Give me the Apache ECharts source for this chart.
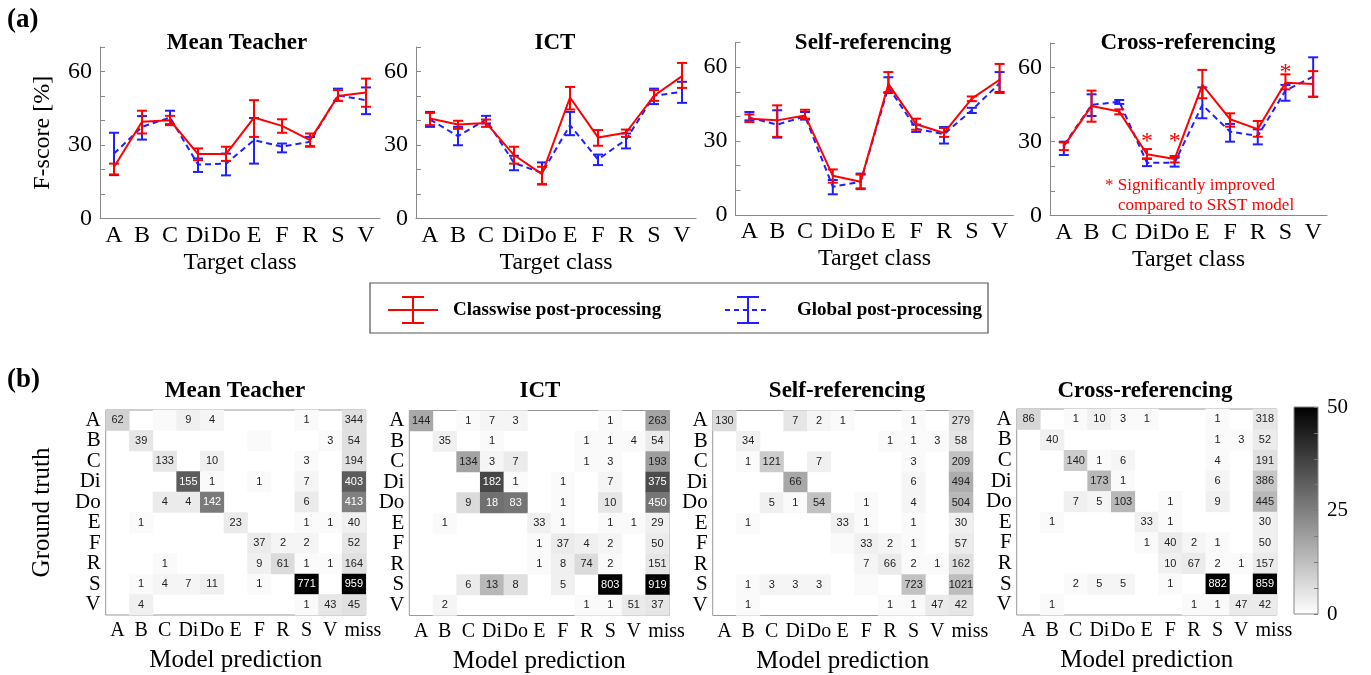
<!DOCTYPE html>
<html><head><meta charset="utf-8">
<script src="https://cdn.jsdelivr.net/npm/echarts@6/dist/echarts.min.js"></script>
<style>html,body{margin:0;padding:0;background:#fff}#c{width:1371px;height:675px}</style>
</head><body><div id="c"></div>
<script>
const _ = null;
const classes = ['A','B','C','Di','Do','E','F','R','S','V'];
const predCols = ['A','B','C','Di','Do','E','F','R','S','V','miss'];
const yTickLabels = [0,30,60];
const cbTickLabels = [0,25,50];
const lineTitles = ['Mean Teacher','ICT','Self-referencing','Cross-referencing'];

// (a) F-score: mean, lower and upper error limits
const mtClsMean = [21,39.5,40.1,26.3,26.3,41.2,37.8,32,50,51.4];
const mtClsLo   = [18,34.7,38.1,23.8,23.5,33.3,35,29.3,48,45.6];
const mtClsHi   = [22.4,44,41.9,28.6,29.3,48.3,40.5,34.7,52.4,57.1];
const mtGlbMean = [26.5,37.4,41.2,22,22.4,32,29.3,31.3,50.3,48.3];
const mtGlbLo   = [17.7,32.2,38.5,19,17.6,22.4,27,29.5,48,42.6];
const mtGlbHi   = [35,41.8,44,24.5,26.5,41,30.6,33.3,53,53.5];

const ictClsMean = [40.8,38.4,39,25.9,18.1,49.4,33.1,35,50.1,58.1];
const ictClsLo   = [38.1,36.6,37.4,22.4,13.9,44.5,29.7,33.3,48,53.3];
const ictClsHi   = [43.1,39.9,40.4,29.3,21.1,53.7,36.1,36.3,52.4,63.5];
const ictGlbMean = [40.4,33.6,40.4,22.7,18.6,38.1,24.1,32.2,50.1,51.7];
const ictGlbLo   = [37.4,29.9,38.8,19.7,14,34,21.8,28.6,46.7,47.2];
const ictGlbHi   = [43.5,37.4,41.9,25.6,22.9,43.5,26.1,34.7,53,55.8];

const srClsMean = [39.1,38.4,40.4,15.9,13.5,53.2,36.8,33.3,47.2,54.9];
const srClsLo   = [37.7,31.7,39.1,13.1,10.5,49.9,34.6,31.7,46.2,49.5];
const srClsHi   = [40.8,44.5,42.7,18.5,16.4,58,39.1,35.3,48.1,61.3];
const srGlbMean = [39.5,36.7,40,11.5,13.5,51.9,35,32.8,42.5,53.5];
const srGlbLo   = [38.4,31.4,38.7,8.4,10.8,49.5,33.7,29,41.4,49.9];
const srGlbHi   = [41.8,42.5,41.8,14.2,16.8,55.9,36.7,35.7,43.5,58];

const crClsMean = [28.2,44.5,42.2,24.9,23,53,39.1,35.1,53.9,53.4];
const crClsLo   = [26.6,38.1,41.1,23,21.6,47.6,36.1,32,51.2,48.2];
const crClsHi   = [29.7,50.7,43.1,27,24.2,59.1,41.5,38.4,57.3,58.6];
const crGlbMean = [28.6,44.9,46.2,21.5,21.5,44.9,34.1,32.3,50.7,56.4];
const crGlbLo   = [24.6,40.4,45.3,20.1,19.9,39.5,30,28.9,46.6,48.2];
const crGlbHi   = [30,49.2,46.9,23.2,23.5,52,37.2,35,53,64.2];
const crStarY   = [_,_,_,32.7,32.7,_,_,_,61,_];

// (b) confusion matrices: counts (rows = ground truth, cols = prediction) and shade level (0-50)
const mtCounts = [
 [62,_,_,9,4,_,_,_,1,_,344],
 [_,39,_,_,_,_,_,_,_,3,54],
 [_,_,133,_,10,_,_,_,3,_,194],
 [_,_,_,155,1,_,1,_,7,_,403],
 [_,_,4,4,142,_,_,_,6,_,413],
 [_,1,_,_,_,23,_,_,1,1,40],
 [_,_,_,_,_,_,37,2,2,_,52],
 [_,_,1,_,_,_,9,61,1,1,164],
 [_,1,4,7,11,_,1,_,771,_,959],
 [_,4,_,_,_,_,_,_,1,43,45]
];
const mtShade = [
 [9,0,1,3,2,0,0,0,1,0,6],
 [0,5,0,0,0,0,1,0,0,1,6],
 [0,0,5,0,3,0,0,0,1,0,6],
 [0,0,0,32,1,0,1,0,2,0,32],
 [0,0,4,4,26,0,0,0,4,0,25],
 [0,1,0,0,0,4,0,0,1,1,3],
 [0,0,0,0,0,0,4,2,2,0,5],
 [0,0,1,0,0,0,3,7,1,1,6],
 [0,1,2,2,3,0,1,0,50,0,50],
 [0,3,0,0,0,0,0,0,1,5,6]
];
const ictCounts = [
 [144,_,1,7,3,_,_,_,1,_,263],
 [_,35,_,1,_,_,_,1,1,4,54],
 [_,_,134,3,7,_,_,1,3,_,193],
 [_,_,_,182,1,_,1,_,7,_,375],
 [_,_,9,18,83,_,1,_,10,_,450],
 [_,1,_,_,_,33,1,_,1,1,29],
 [_,_,_,_,_,1,37,4,2,_,50],
 [_,_,_,_,_,1,8,74,2,_,151],
 [_,_,6,13,8,_,5,_,803,_,919],
 [_,2,_,_,_,_,_,1,1,51,37]
];
const ictShade = [
 [17,0,1,2,2,0,0,0,1,0,18],
 [0,3,0,1,0,0,0,1,1,1,4],
 [0,0,18,2,4,0,0,1,1,0,19],
 [0,0,0,36,1,0,1,0,2,0,35],
 [0,0,7,28,27,0,1,0,5,0,27],
 [0,1,0,0,0,3,1,0,1,1,3],
 [0,0,0,0,0,1,4,3,2,0,4],
 [0,0,0,0,0,1,3,7,1,0,5],
 [0,0,4,14,6,0,3,0,50,0,50],
 [0,2,0,0,0,0,0,1,1,4,5]
];
const srCounts = [
 [130,_,_,7,2,1,_,_,1,_,279],
 [_,34,_,_,_,_,_,1,1,3,58],
 [_,1,121,_,7,_,_,_,3,_,209],
 [_,_,_,66,_,_,_,_,6,_,494],
 [_,_,5,1,54,_,1,_,4,_,504],
 [_,1,_,_,_,33,1,_,1,_,30],
 [_,_,_,_,_,_,33,2,1,_,57],
 [_,_,_,_,_,_,7,66,2,1,162],
 [_,1,3,3,3,_,_,_,723,_,1021],
 [_,1,_,_,_,_,_,1,1,47,42]
];
const srShade = [
 [7,0,0,5,2,1,0,0,1,0,6],
 [0,3,0,0,0,0,0,1,1,1,5],
 [0,1,10,0,3,0,0,0,1,0,12],
 [0,0,0,17,0,0,0,0,2,0,16],
 [0,0,3,1,12,0,1,0,2,0,14],
 [0,1,0,0,0,3,1,0,1,0,3],
 [0,0,0,0,0,1,3,2,1,0,4],
 [0,0,0,0,0,0,2,4,1,1,6],
 [0,1,2,2,2,0,1,0,12,0,13],
 [0,1,0,0,0,0,0,1,1,4,5]
];
const crCounts = [
 [86,_,1,10,3,1,_,_,1,_,318],
 [_,40,_,_,_,_,_,_,1,3,52],
 [_,_,140,1,6,_,_,_,4,_,191],
 [_,_,_,173,1,_,_,_,6,_,386],
 [_,_,7,5,103,_,1,_,9,_,445],
 [_,1,_,_,_,33,1,_,_,_,30],
 [_,_,_,_,_,1,40,2,1,_,50],
 [_,_,_,_,_,_,10,67,2,1,157],
 [_,_,2,5,5,_,1,_,882,_,859],
 [_,1,_,_,_,_,_,1,1,47,42]
];
const crShade = [
 [8,0,1,3,1,1,0,0,1,0,5],
 [0,3,0,0,0,0,0,0,1,1,4],
 [0,0,10,1,2,0,0,0,1,0,6],
 [0,0,0,14,1,0,0,0,2,0,11],
 [0,0,3,2,14,0,1,0,3,0,14],
 [0,1,0,0,0,3,1,0,0,0,3],
 [0,0,0,0,0,1,4,2,1,0,3],
 [0,0,0,0,0,0,3,4,1,1,4],
 [0,0,1,2,2,0,1,0,50,0,50],
 [0,1,0,0,0,0,0,1,1,4,4]
];

const SERIF = '"Liberation Serif","Times New Roman",serif';
const SANS = '"Liberation Sans",Arial,sans-serif';
const RED = '#ff0000', BLUE = '#1f1fff', AXC = '#888';

const panels = [
 {cls:[mtClsMean,mtClsLo,mtClsHi], glb:[mtGlbMean,mtGlbLo,mtGlbHi]},
 {cls:[ictClsMean,ictClsLo,ictClsHi], glb:[ictGlbMean,ictGlbLo,ictGlbHi]},
 {cls:[srClsMean,srClsLo,srClsHi], glb:[srGlbMean,srGlbLo,srGlbHi]},
 {cls:[crClsMean,crClsLo,crClsHi], glb:[crGlbMean,crGlbLo,crGlbHi]}
];
const matrices = [[mtCounts,mtShade],[ictCounts,ictShade],[srCounts,srShade],[crCounts,crShade]];

const lineGrids = [
 {left:100, top:47, width:280, height:171.5},
 {left:416, top:47, width:280, height:171.5},
 {left:735.5, top:42.5, width:278, height:172.5},
 {left:1050, top:43, width:277, height:172.7}
];
const heatGrids = [
 {left:105.7, top:410, width:260, height:205},
 {left:409.3, top:410.5, width:260, height:205},
 {left:712.7, top:410.5, width:260, height:205},
 {left:1016.7, top:409, width:260, height:206}
];
const titleX = [237, 555, 873, 1188];
const heatTitleX = [235, 540, 847, 1145];

function errRender(color){
  return function(params, api){
    const x = api.value(0);
    const lo = api.coord([x, api.value(1)]);
    const hi = api.coord([x, api.value(2)]);
    const st = {stroke: color, lineWidth: 2};
    const c = 5;
    return {type:'group', children:[
      {type:'line', shape:{x1:lo[0],y1:lo[1],x2:hi[0],y2:hi[1]}, style:st},
      {type:'line', shape:{x1:lo[0]-c,y1:lo[1],x2:lo[0]+c,y2:lo[1]}, style:st},
      {type:'line', shape:{x1:hi[0]-c,y1:hi[1],x2:hi[0]+c,y2:hi[1]}, style:st}
    ]};
  };
}

const grid = [], xAxis = [], yAxis = [], series = [];
lineGrids.forEach((g, i) => {
  grid.push(Object.assign({containLabel:false}, g));
  xAxis.push({gridIndex:i, type:'category', data:classes, boundaryGap:true,
    axisLine:{lineStyle:{color:AXC}}, axisTick:{inside:true, alignWithLabel:true, length:5, lineStyle:{color:AXC}},
    axisLabel:{interval:0, margin:5, fontFamily:SERIF, fontSize:24, color:'#000'},
    name:'Target class', nameLocation:'middle', nameGap:32,
    nameTextStyle:{fontFamily:SERIF, fontSize:24, color:'#000'}});
  yAxis.push({gridIndex:i, type:'value', min:0, max:70, interval:10, splitLine:{show:false},
    axisLine:{show:true, lineStyle:{color:AXC}}, axisTick:{show:true, inside:true, length:5, lineStyle:{color:AXC}},
    axisLabel:{formatter: v => yTickLabels.includes(v) ? String(v) : '', fontFamily:SERIF, fontSize:24, color:'#000', margin:8},
    name: i === 0 ? 'F-score [%]' : '', nameLocation:'middle', nameGap:45, nameRotate:90,
    nameTextStyle:{fontFamily:SERIF, fontSize:24, color:'#000'}});
  const p = panels[i];
  series.push({type:'custom', xAxisIndex:i, yAxisIndex:i, renderItem:errRender(BLUE), z:2,
    encode:{x:0, y:[1,2]}, data: classes.map((c,k)=>[k, p.glb[1][k], p.glb[2][k]])});
  series.push({type:'line', xAxisIndex:i, yAxisIndex:i, data:p.glb[0], symbol:'none', z:3,
    lineStyle:{color:BLUE, width:2, type:[6,4]}});
  series.push({type:'custom', xAxisIndex:i, yAxisIndex:i, renderItem:errRender(RED), z:4,
    encode:{x:0, y:[1,2]}, data: classes.map((c,k)=>[k, p.cls[1][k], p.cls[2][k]])});
  series.push({type:'line', xAxisIndex:i, yAxisIndex:i, data:p.cls[0], symbol:'none', z:5,
    lineStyle:{color:RED, width:2}});
});
// significance stars on the cross-referencing panel
series.push({type:'custom', xAxisIndex:3, yAxisIndex:3, z:6, encode:{x:0, y:1},
  data: crStarY.map((v,k)=> v === null ? null : [k, v]).filter(d => d),
  renderItem: (params, api) => {
    const pt = api.coord([api.value(0), api.value(1)]);
    return {type:'text', x:pt[0], y:pt[1]+7, style:{text:'*', fill:RED, font:'24px ' + SERIF, align:'center', verticalAlign:'middle'}};
  }});

const heatSeriesIdx = [];
heatGrids.forEach((g, j) => {
  const gi = 4 + j;
  grid.push(Object.assign({show:true, borderColor:'#999', borderWidth:1, backgroundColor:'#fff'}, g));
  xAxis.push({gridIndex:gi, type:'category', data:predCols, splitLine:{show:false},
    axisLine:{show:false}, axisTick:{show:false},
    axisLabel:{interval:0, margin:6, fontFamily:SERIF, fontSize:20, color:'#000',
      formatter: v => v === 'miss' ? '{m|miss}' : v,
      rich:{m:{fontFamily:SERIF, fontSize:20, color:'#000', padding:[0,0,0,18]}}},
    name:'Model prediction', nameLocation:'middle', nameGap:33,
    nameTextStyle:{fontFamily:SERIF, fontSize:25, color:'#000'}});
  yAxis.push({gridIndex:gi, type:'category', data:classes, inverse:true, splitLine:{show:false},
    axisLine:{show:false}, axisTick:{show:false},
    axisLabel:{interval:0, margin:5, fontFamily:SERIF, fontSize:21, color:'#000'},
    name: j === 0 ? 'Ground truth' : '', nameLocation:'middle', nameGap:51, nameRotate:90,
    nameTextStyle:{fontFamily:SERIF, fontSize:25, color:'#000'}});
  const [counts, shade] = matrices[j];
  const data = [];
  counts.forEach((row, r) => row.forEach((c, k) => {
    const s = shade[r][k];
    if (c === null && !s) return;
    data.push({value:[k, r, s, c], label:{color: s >= 22 ? '#ffffff' : '#222222'}});
  }));
  heatSeriesIdx.push(series.length);
  series.push({type:'heatmap', xAxisIndex:gi, yAxisIndex:gi, data, encode:{x:0, y:1},
    label:{show:true, fontFamily:SANS, fontSize:11, formatter: p => p.value[3] === null ? '' : String(p.value[3])},
    emphasis:{disabled:true}, itemStyle:{borderWidth:0}});
});

// colorbar grid
grid.push({left:1294, top:407, width:24, height:207, show:true, borderColor:'#888', borderWidth:1,
  backgroundColor: new echarts.graphic.LinearGradient(0,0,0,1,[{offset:0,color:'#000000'},{offset:1,color:'#ffffff'}])});
xAxis.push({gridIndex:8, type:'category', data:[''], show:false});
yAxis.push({gridIndex:8, type:'value', min:0, max:50, interval:6.25, position:'right', splitLine:{show:false},
  axisLine:{show:false}, axisTick:{show:true, inside:true, length:4, lineStyle:{color:'#777'}},
  axisLabel:{formatter: v => cbTickLabels.includes(v) ? String(v) : '', margin:9, fontFamily:SERIF, fontSize:21, color:'#000'}});

const graphic = [
  {type:'text', left:7, top:7, style:{text:'(a)', font:'bold 27px ' + SERIF, fill:'#000'}},
  {type:'text', left:7, top:367, style:{text:'(b)', font:'bold 27px ' + SERIF, fill:'#000'}},
];
titleX.forEach((x, i) => graphic.push({type:'text', x:x, y:43,
  style:{text:lineTitles[i], font:'bold 23px ' + SERIF, fill:'#000', align:'center', verticalAlign:'middle'}}));
heatTitleX.forEach((x, i) => graphic.push({type:'text', x:x, y:391,
  style:{text:lineTitles[i], font:'bold 23px ' + SERIF, fill:'#000', align:'center', verticalAlign:'middle'}}));
// legend
graphic.push({type:'rect', shape:{x:370, y:283, width:618, height:50}, style:{fill:'none', stroke:'#555', lineWidth:1.2}});
[[388,438,413,RED,null],[725,770,748,BLUE,[5,4]]].forEach(([x1,x2,xc,col,dash]) => {
  graphic.push({type:'line', shape:{x1:x1,y1:310,x2:x2,y2:310}, style:{stroke:col, lineWidth:2, lineDash:dash}});
  graphic.push({type:'line', shape:{x1:xc,y1:297,x2:xc,y2:323}, style:{stroke:col, lineWidth:2}});
  graphic.push({type:'line', shape:{x1:xc-11,y1:297,x2:xc+11,y2:297}, style:{stroke:col, lineWidth:2}});
  graphic.push({type:'line', shape:{x1:xc-11,y1:323,x2:xc+11,y2:323}, style:{stroke:col, lineWidth:2}});
});
graphic.push({type:'text', x:453, y:310, style:{text:'Classwise post-processing', font:'bold 19px ' + SERIF, fill:'#000', verticalAlign:'middle'}});
graphic.push({type:'text', x:797, y:310, style:{text:'Global post-processing', font:'bold 19px ' + SERIF, fill:'#000', verticalAlign:'middle'}});
// annotation
graphic.push({type:'text', x:1105, y:186, style:{text:'* Significantly improved', font:'17px ' + SERIF, fill:RED, verticalAlign:'middle'}});
graphic.push({type:'text', x:1118, y:206, style:{text:'compared to SRST model', font:'17px ' + SERIF, fill:RED, verticalAlign:'middle'}});

const chart = echarts.init(document.getElementById('c'), null, {renderer:'canvas'});
chart.setOption({
  backgroundColor:'#fff', animation:false,
  grid, xAxis, yAxis, series, graphic,
  visualMap:[{show:false, type:'continuous', min:0, max:50, dimension:2, seriesIndex:heatSeriesIdx,
    inRange:{color:['#ffffff','#000000']}}]
});
</script></body></html>
